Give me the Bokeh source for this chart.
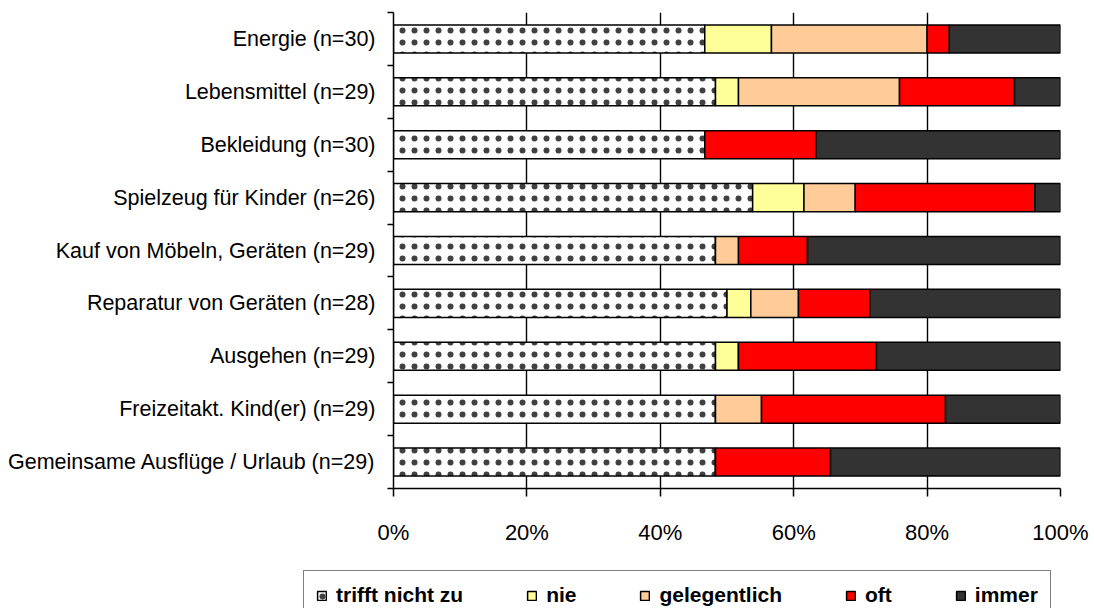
import numpy as np
from bokeh.plotting import figure
from bokeh.layouts import column
from bokeh.models import (ColumnDataSource, Legend, LegendItem, FixedTicker,
                          NumeralTickFormatter, Range1d)
from bokeh.embed import file_html
from bokeh.resources import INLINE

categories = ["Energie (n=30)", "Lebensmittel (n=29)", "Bekleidung (n=30)",
              "Spielzeug für Kinder (n=26)", "Kauf von Möbeln, Geräten (n=29)",
              "Reparatur von Geräten (n=28)", "Ausgehen (n=29)",
              "Freizeitakt. Kind(er) (n=29)", "Gemeinsame Ausflüge / Urlaub (n=29)"]
series = ["trifft nicht zu", "nie", "gelegentlich", "oft", "immer"]
trifft_nicht_zu = [14, 14, 14, 14, 14, 14, 14, 14, 14]
nie = [3, 1, 0, 2, 0, 1, 1, 0, 0]
gelegentlich = [7, 7, 0, 2, 1, 2, 0, 2, 0]
oft = [1, 5, 5, 7, 3, 3, 6, 8, 5]
immer = [5, 2, 11, 1, 11, 8, 8, 5, 10]
colors = ["#FFFFFF", "#FFFF99", "#FFCC99", "#FF0000", "#333333"]
x_ticks = [0, 0.2, 0.4, 0.6, 0.8, 1.0]

counts = np.array([trifft_nicht_zu, nie, gelegentlich, oft, immer], dtype=float)
totals = counts.sum(axis=0)
shares = counts / totals
right = np.cumsum(shares, axis=0)
left = right - shares
n = len(categories)
ypos = [n - i - 0.5 for i in range(n)]

W = 1094
H_MAIN = 562
H_LEG = 46

p = figure(width=W, height=H_MAIN, output_backend="svg", toolbar_location=None,
           x_range=Range1d(0, 1), y_range=Range1d(0, n),
           min_border_left=393, min_border_right=34, min_border_top=12,
           min_border_bottom=H_MAIN - 488)
p.frame_align = False
p.outline_line_color = None
p.background_fill_color = "white"

hatch_kw = dict(hatch_pattern="dot", hatch_color="black", hatch_scale=12,
                hatch_weight=0.5, hatch_alpha=0.75)

for k, name in enumerate(series):
    src = ColumnDataSource(dict(y=ypos, left=left[k], right=right[k]))
    kw = hatch_kw if k == 0 else {}
    p.hbar(y="y", left="left", right="right", height=0.53, source=src,
           fill_color=colors[k], line_color="black", line_width=1.5, **kw)

# x axis
p.xaxis.ticker = FixedTicker(ticks=x_ticks)
p.xaxis.formatter = NumeralTickFormatter(format="0%")
p.xaxis.major_label_text_font = "Liberation Sans"
p.xaxis.major_label_text_font_size = "22px"
p.xaxis.major_label_text_color = "black"
p.xaxis.axis_line_color = "black"
p.xaxis.axis_line_width = 1.5
p.xaxis.major_tick_line_color = "black"
p.xaxis.major_tick_line_width = 1.5
p.xaxis.major_tick_out = 8
p.xaxis.major_tick_in = 0
p.xaxis.minor_tick_line_color = None
p.xaxis.major_label_standoff = 23

# y axis
p.yaxis.ticker = FixedTicker(ticks=ypos, minor_ticks=list(range(n + 1)))
p.yaxis.major_label_overrides = {y: c for y, c in zip(ypos, categories)}
p.yaxis.major_label_text_font = "Liberation Sans"
p.yaxis.major_label_text_font_size = "21.5px"
p.yaxis.major_label_text_color = "black"
p.yaxis.axis_line_color = "black"
p.yaxis.axis_line_width = 1.5
p.yaxis.major_tick_line_color = None
p.yaxis.major_tick_out = 0
p.yaxis.major_tick_in = 0
p.yaxis.minor_tick_line_color = "black"
p.yaxis.minor_tick_line_width = 1.5
p.yaxis.minor_tick_out = 6
p.yaxis.minor_tick_in = 0
p.yaxis.major_label_standoff = 12

p.xgrid.ticker = FixedTicker(ticks=x_ticks)
p.xgrid.grid_line_color = "black"
p.xgrid.grid_line_width = 1.4
p.ygrid.grid_line_color = None

# legend strip (separate figure; small proxy bars hidden beneath the legend box)
lf = figure(width=W, height=H_LEG, output_backend="svg", toolbar_location=None,
            x_range=Range1d(0, 1), y_range=Range1d(0, 1),
            x_axis_location=None, y_axis_location=None,
            min_border=0, min_border_left=0, min_border_right=0,
            min_border_top=0, min_border_bottom=0)
lf.frame_align = False
lf.outline_line_color = None
lf.xgrid.grid_line_color = None
lf.ygrid.grid_line_color = None
items = []
for k, name in enumerate(series):
    kw = hatch_kw if k == 0 else {}
    r = lf.hbar(y=[0.6], left=[0.45], right=[0.55], height=0.2,
                fill_color=colors[k], line_color="black", line_width=1.5, **kw)
    items.append(LegendItem(label=name, renderers=[r], index=0))

legend = Legend(items=items, orientation="horizontal", location=(303, -12),
                label_text_font="Liberation Sans", label_text_font_style="bold",
                label_text_font_size="21px", label_text_color="black",
                glyph_width=11, glyph_height=11, label_standoff=9, spacing=63,
                padding=12, margin=0,
                border_line_color="black", border_line_width=1.5,
                background_fill_color="white", background_fill_alpha=1.0)
lf.add_layout(legend, "center")

layout = column(p, lf, spacing=0)
open("out.html", "w").write(file_html(layout, INLINE))
